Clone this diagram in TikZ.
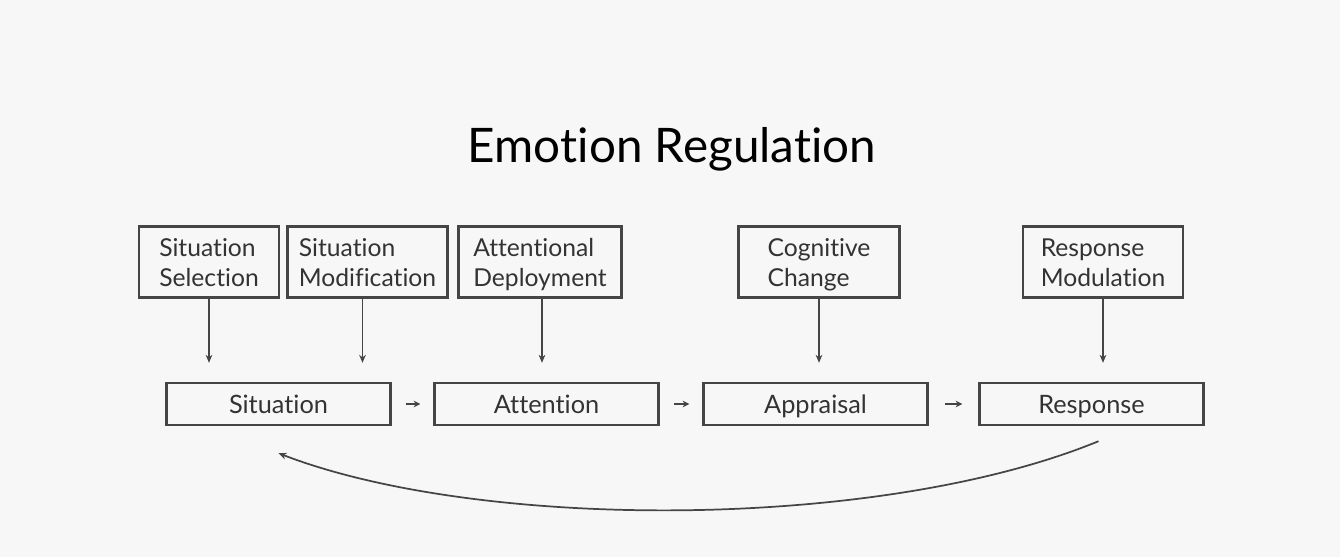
\documentclass[tikz,border=0pt]{standalone}
\usepackage{fontspec}
\setmainfont{Lato}[Ligatures=NoCommon]
\usetikzlibrary{arrows.meta,calc}
\definecolor{bg}{HTML}{F7F7F7}
\definecolor{ln}{HTML}{454545}
\definecolor{tx}{HTML}{333333}
\newcommand{\twoline}[2]{\rule{0pt}{\dimexpr0.7\baselineskip+4.5pt\relax}#1\\\strut #2}
\tikzset{
  topbox/.style={draw=ln, line width=1.8pt, minimum height=53pt, inner sep=0pt, align=left, font=\fontsize{18.5}{22.5}\selectfont, text=tx},
  botbox/.style={draw=ln, line width=1.8pt, minimum height=31.5pt, minimum width=168pt, inner sep=0pt, text height=16pt, text depth=2pt, font=\fontsize{19}{22}\selectfont, text=tx},
  conn/.style={draw=ln, line width=1.3pt, -{Stealth[length=6pt,width=5pt]}},
  smallarr/.style={draw=ln, line width=1.3pt, -{Stealth[length=5pt,width=5pt]}},
}
\begin{document}
\begin{tikzpicture}[x=0.75pt,y=-0.75pt]
\fill[bg] (0,0) rectangle (1340,557);
\useasboundingbox (0,0) rectangle (1340,557);
\node[font=\fontsize{35.7}{40}\selectfont, text=black] (title) at (672,149) {Emotion Regulation};
% top boxes
\node[topbox, minimum width=105pt] (t1) at (209,262) {\twoline{Situation}{Selection}};
\node[topbox, minimum width=120pt] (t2) at (367.5,262) {\twoline{Situation}{Modification}};
\node[topbox, minimum width=122pt] (t3) at (540,262) {\twoline{Attentional}{Deployment}};
\node[topbox, minimum width=121pt] (t4) at (819,262) {\twoline{Cognitive}{Change}};
\node[topbox, minimum width=120pt] (t5) at (1103,262) {\twoline{Response}{Modulation}};
% bottom boxes
\node[botbox] (sit) at (278.5,404) {Situation};
\node[botbox] (att) at (546.5,404) {Attention};
\node[botbox] (app) at (815.5,404) {Appraisal};
\node[botbox] (resp) at (1091.5,404) {Response};
% vertical arrows
\draw[conn] (t1.south) -- ($(t1.south |- sit.north)+(0,-19)$);
\draw[conn] ($(t2.south)+(-5,0)$) -- ($(t2.south |- sit.north)+(-5,-19)$);
\draw[conn] ($(t3.south)+(2,0)$) -- ($(t3.south |- att.north)+(2,-19)$);
\draw[conn] (t4.south) -- ($(t4.south |- app.north)+(0,-19)$);
\draw[conn] (t5.south) -- ($(t5.south |- resp.north)+(0,-19)$);
% small arrows between bottom boxes
\draw[smallarr] ($(sit.east)+(14,0)$) -- ($(att.west)+(-13,0)$);
\draw[smallarr] ($(att.east)+(14,0)$) -- ($(app.west)+(-13,0)$);
\draw[smallarr] ($(app.east)+(16,0)$) -- ($(resp.west)+(-16,0)$);
% feedback curve
\coordinate (cs) at ($(resp.south)+(7,15)$);
\coordinate (ce) at ($(sit.south)+(0,27)$);
\draw[conn] (cs) .. controls (880,531) and (480,531) .. (ce);
\end{tikzpicture}
\end{document}
